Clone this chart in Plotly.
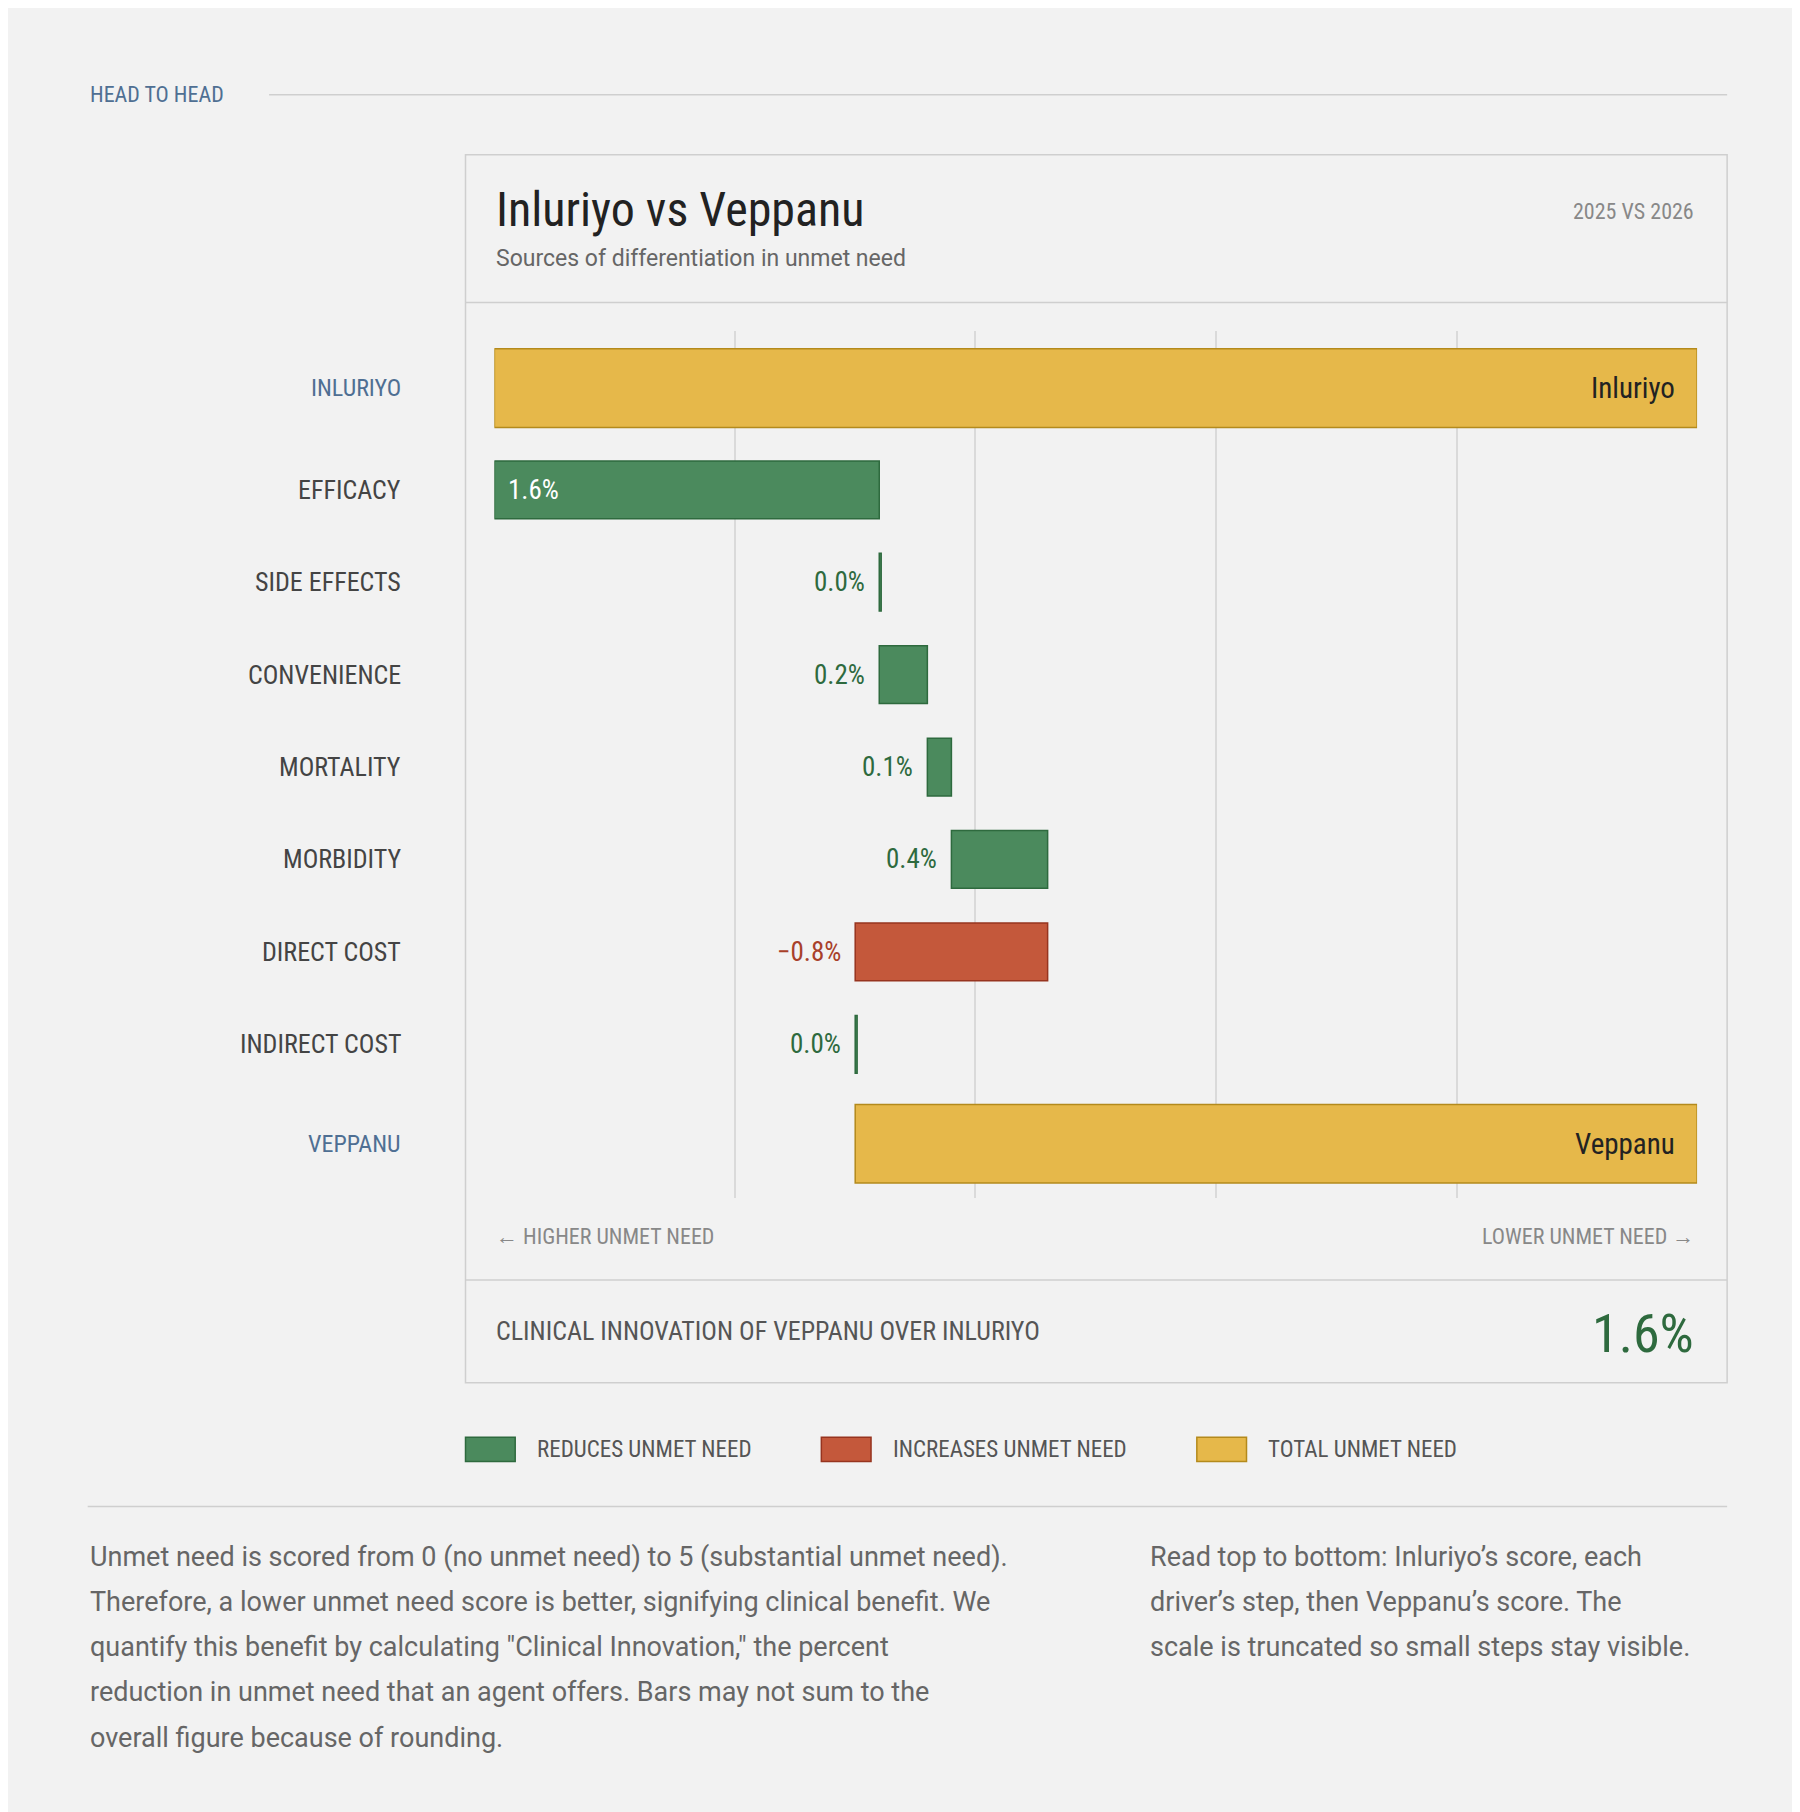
import plotly.graph_objects as go

W, H = 1800, 1812
S = W / 1558.0


def px(x):
    return x * S / W


def py(y):
    return 1 - y * S / H


# data (percent change in unmet need, Inluriyo -> Veppanu)
drivers = ["EFFICACY", "SIDE EFFECTS", "CONVENIENCE", "MORTALITY", "MORBIDITY", "DIRECT COST", "INDIRECT COST"]
driver_values = [1.6, 0.0, 0.2, 0.1, 0.4, -0.8, 0.0]
driver_labels = ["1.6%", "0.0%", "0.2%", "0.1%", "0.4%", "\u22120.8%", "0.0%"]
totals = ["Inluriyo", "Veppanu"]
innovation = "1.6%"

# row centres in reference pixels (layout only)
row_y = [417, 497, 577, 657, 737, 817, 897]
total_y = [329, 983]

GREEN, GREEN_E = "#4b8a5d", "#2e6a3e"
RED, RED_E = "#c4583b", "#97341f"
GOLD, GOLD_E = "#e6b84a", "#b48a1c"
BLUE = "#4f6f93"
GREY = "#666666"
NARROW = "Liberation Sans Narrow, Roboto Condensed, Arial Narrow, sans-serif"
BODY = "Roboto, Inter, sans-serif"

fig = go.Figure()

cum = 0.0
bases, widths, cols, ecols = [], [], [], []
for v in driver_values:
    start = cum
    cum = cum + v
    lo = min(start, cum)
    w = abs(v) if abs(v) > 0 else 0.008
    bases.append(lo)
    widths.append(w)
    cols.append(GREEN if v >= 0 else RED)
    ecols.append(GREEN_E if v >= 0 else RED_E)
end_value = cum

fig.add_trace(go.Bar(orientation="h", y=row_y, x=widths, base=bases, width=50,
                     marker=dict(color=cols, line=dict(color=ecols, width=1.5)),
                     showlegend=False, hoverinfo="skip"))
fig.add_trace(go.Bar(orientation="h", y=total_y, x=[5 - 0, 5 - end_value], base=[0, end_value], width=68,
                     marker=dict(color=GOLD, line=dict(color=GOLD_E, width=1.5)),
                     showlegend=False, hoverinfo="skip"))

fig.update_xaxes(range=[0, 5], domain=[px(421), px(1462)], showticklabels=False,
                 showgrid=True, gridcolor="#dadada", gridwidth=1.5, dtick=1, zeroline=False)
fig.update_yaxes(range=[1030, 280], domain=[py(1030), py(280)], showticklabels=False,
                 showgrid=False, zeroline=False)

ann = []
# value labels
for i, (y, b, w, v, lab) in enumerate(zip(row_y, bases, widths, driver_values, driver_labels)):
    if i == 0:
        ann.append(dict(x=0, y=y, xref="x", yref="y", text=lab, xanchor="left", xshift=12, showarrow=False,
                        font=dict(family=NARROW, size=27, color="white")))
    else:
        ann.append(dict(x=b, y=y, xref="x", yref="y", text=lab, xanchor="right", xshift=-12, showarrow=False,
                        font=dict(family=NARROW, size=27, color=GREEN_E if v >= 0 else "#a8402a")))
for y, t in zip(total_y, totals):
    ann.append(dict(x=5, y=y, xref="x", yref="y", text=t, xanchor="right", xshift=-20, showarrow=False,
                    font=dict(family=NARROW, size=29, color="#222")))
# row labels
for y, t in zip(row_y, drivers):
    ann.append(dict(x=px(342), y=y, xref="paper", yref="y", text=t, xanchor="right", showarrow=False,
                    font=dict(family=NARROW, size=26, color="#444")))
for y, t in zip(total_y, totals):
    ann.append(dict(x=px(342), y=y, xref="paper", yref="y", text=t.upper(), xanchor="right", showarrow=False,
                    font=dict(family=NARROW, size=24, color=BLUE)))


def txt(x, y, t, size, color, family=NARROW, xa="left"):
    ann.append(dict(x=px(x), y=py(y), xref="paper", yref="paper", text=t, xanchor=xa, yanchor="middle",
                    showarrow=False, font=dict(family=family, size=size, color=color)))


txt(69, 75, "HEAD TO HEAD", 22, BLUE)
txt(421, 174, "Inluriyo vs Veppanu", 48, "#222")
txt(421, 217, "Sources of differentiation in unmet need", 23, GREY, BODY)
txt(1461, 176, "2025 VS 2026", 22, "#888", xa="right")
txt(421, 1063, "\u2190 HIGHER UNMET NEED", 22, "#888")
txt(1461, 1063, "LOWER UNMET NEED \u2192", 22, "#888", xa="right")
txt(421, 1145, "CLINICAL INNOVATION OF VEPPANU OVER INLURIYO", 26, "#555")
txt(1461, 1147, innovation, 54, GREEN_E, xa="right")

legend_items = [("REDUCES UNMET NEED", GREEN, GREEN_E, 396), ("INCREASES UNMET NEED", RED, RED_E, 704),
                ("TOTAL UNMET NEED", GOLD, GOLD_E, 1029)]
shapes = []
for name, c, e, x0 in legend_items:
    shapes.append(dict(type="rect", xref="paper", yref="paper", x0=px(x0), x1=px(x0 + 43), y0=py(1237), y1=py(1258),
                       fillcolor=c, line=dict(color=e, width=1.5)))
    txt(x0 + 60, 1248, name, 23, "#555")

left_lines = ["Unmet need is scored from 0 (no unmet need) to 5 (substantial unmet need).",
              "Therefore, a lower unmet need score is better, signifying clinical benefit. We",
              "quantify this benefit by calculating \"Clinical Innovation,\" the percent",
              "reduction in unmet need that an agent offers. Bars may not sum to the",
              "overall figure because of rounding."]
right_lines = ["Read top to bottom: Inluriyo\u2019s score, each",
               "driver\u2019s step, then Veppanu\u2019s score. The",
               "scale is truncated so small steps stay visible."]
for i, l in enumerate(left_lines):
    txt(69, 1341 + 39 * i, l, 27, "#666", BODY)
for i, l in enumerate(right_lines):
    txt(987, 1341 + 39 * i, l, 27, "#666", BODY)

line = dict(color="#cfcfcf", width=1.5)
shapes += [
    dict(type="line", xref="paper", yref="paper", x0=px(226), x1=px(1488), y0=py(75), y1=py(75), line=line),
    dict(type="rect", xref="paper", yref="paper", x0=px(396), x1=px(1488), y0=py(127), y1=py(1190),
         line=line, layer="below"),
    dict(type="line", xref="paper", yref="paper", x0=px(396), x1=px(1488), y0=py(255), y1=py(255), line=line),
    dict(type="line", xref="paper", yref="paper", x0=px(396), x1=px(1488), y0=py(1101), y1=py(1101), line=line),
    dict(type="line", xref="paper", yref="paper", x0=px(69), x1=px(1488), y0=py(1297), y1=py(1297), line=line),
]

fig.update_layout(width=W, height=H, margin=dict(l=0, r=0, t=0, b=0),
                  paper_bgcolor="#f2f2f2", plot_bgcolor="#f2f2f2",
                  annotations=ann, shapes=shapes, barmode="overlay")
fig.write_html("out.html")
